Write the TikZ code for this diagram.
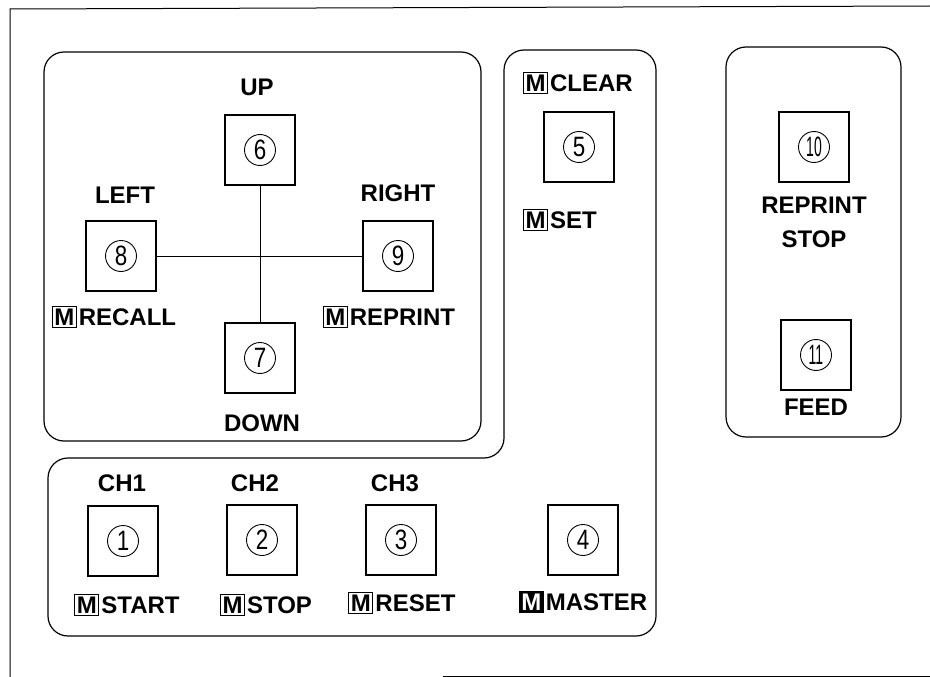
\documentclass[tikz,border=0pt]{standalone}
\usepackage{fontspec}
\setmainfont{Liberation Sans}
\usepackage{graphicx}
\usetikzlibrary{positioning}
% framed M marks and circled key numbers
\newcommand{\mk}{{\setlength{\fboxsep}{1.5pt}\setlength{\fboxrule}{1pt}\fbox{M}}\kern2pt}
\newcommand{\mkb}{{\setlength{\fboxsep}{2.5pt}\colorbox{black}{\color{white}M}}\kern2pt}
\newcommand{\cnum}[1]{\ifnum#1>9 \scalebox{0.5}[1]{#1}\else\scalebox{0.8}[1]{#1}\fi}

\begin{document}
\begin{tikzpicture}[x=1pt,y=-1pt,
  frame/.style={line width=1.2pt,rounded corners=20pt},
  key/.style={draw,line width=1.2pt,minimum size=70pt,inner sep=0pt},
  num/.style={draw,circle,line width=0.9pt,minimum size=31pt,inner sep=0pt,font=\fontsize{28}{28}\selectfont},
  lbl/.style={font=\fontsize{24}{34}\selectfont\bfseries,inner sep=0pt,align=center}]
  \useasboundingbox (0,0) rectangle (930,677);
  % outer sheet and panels
  \draw[line width=1pt] (10,677) -- (10,9) -- (930,6);
  \draw[line width=1pt] (443,676) -- (930,676);
  \draw[frame] (44,52) rectangle (481,441);
  \draw[frame] (504,50) -- (656,50) -- (656,636) -- (48,636) -- (48,458) -- (504,458) -- cycle;
  \draw[frame] (726,47) rectangle (901,437);
  % keys
  \foreach \n/\x/\y in {1/123/541,2/262/540,3/401/540,4/583/540,5/579/147,6/260/150,
      7/260/358,8/121/256,9/398/256,10/814/147,11/816/355}{
    \node[key] (b\n) at (\x,\y) {};
    \node[num] (n\n) at (b\n) {\cnum{\n}};
  }
  \draw[line width=1pt] (b8) -- (b9);
  \draw[line width=1pt] (b6) -- (b7);
  % cursor pad
  \node[lbl] (up) at (257,87) {UP};
  \node[lbl] (left) at (125,195) {LEFT};
  \node[lbl] (right) at (398,193) {RIGHT};
  \node[lbl] (down) at (262,423) {DOWN};
  \node[lbl] (recall) at (114,317) {\mk RECALL};
  \node[lbl] (reprint) at (389,317) {\mk REPRINT};
  % middle column
  \node[lbl] (clear) at (578,83) {\mk CLEAR};
  \node[lbl] (mset) at (560,220) {\mk SET};
  % right panel
  \node[lbl] (rpstop) at (814,222) {REPRINT\\STOP};
  \node[lbl] (feed) at (816,407) {FEED};
  % channel row
  \node[lbl] (ch1) at (122,483) {CH1};
  \node[lbl] (ch2) at (255,483) {CH2};
  \node[lbl] (ch3) at (395,483) {CH3};
  \node[lbl] (start) at (127,605) {\mk START};
  \node[lbl] (stop) at (266,605) {\mk STOP};
  \node[lbl] (reset) at (402,603) {\mk RESET};
  \node[lbl] (master) at (583,602) {\mkb MASTER};
\end{tikzpicture}
\end{document}
